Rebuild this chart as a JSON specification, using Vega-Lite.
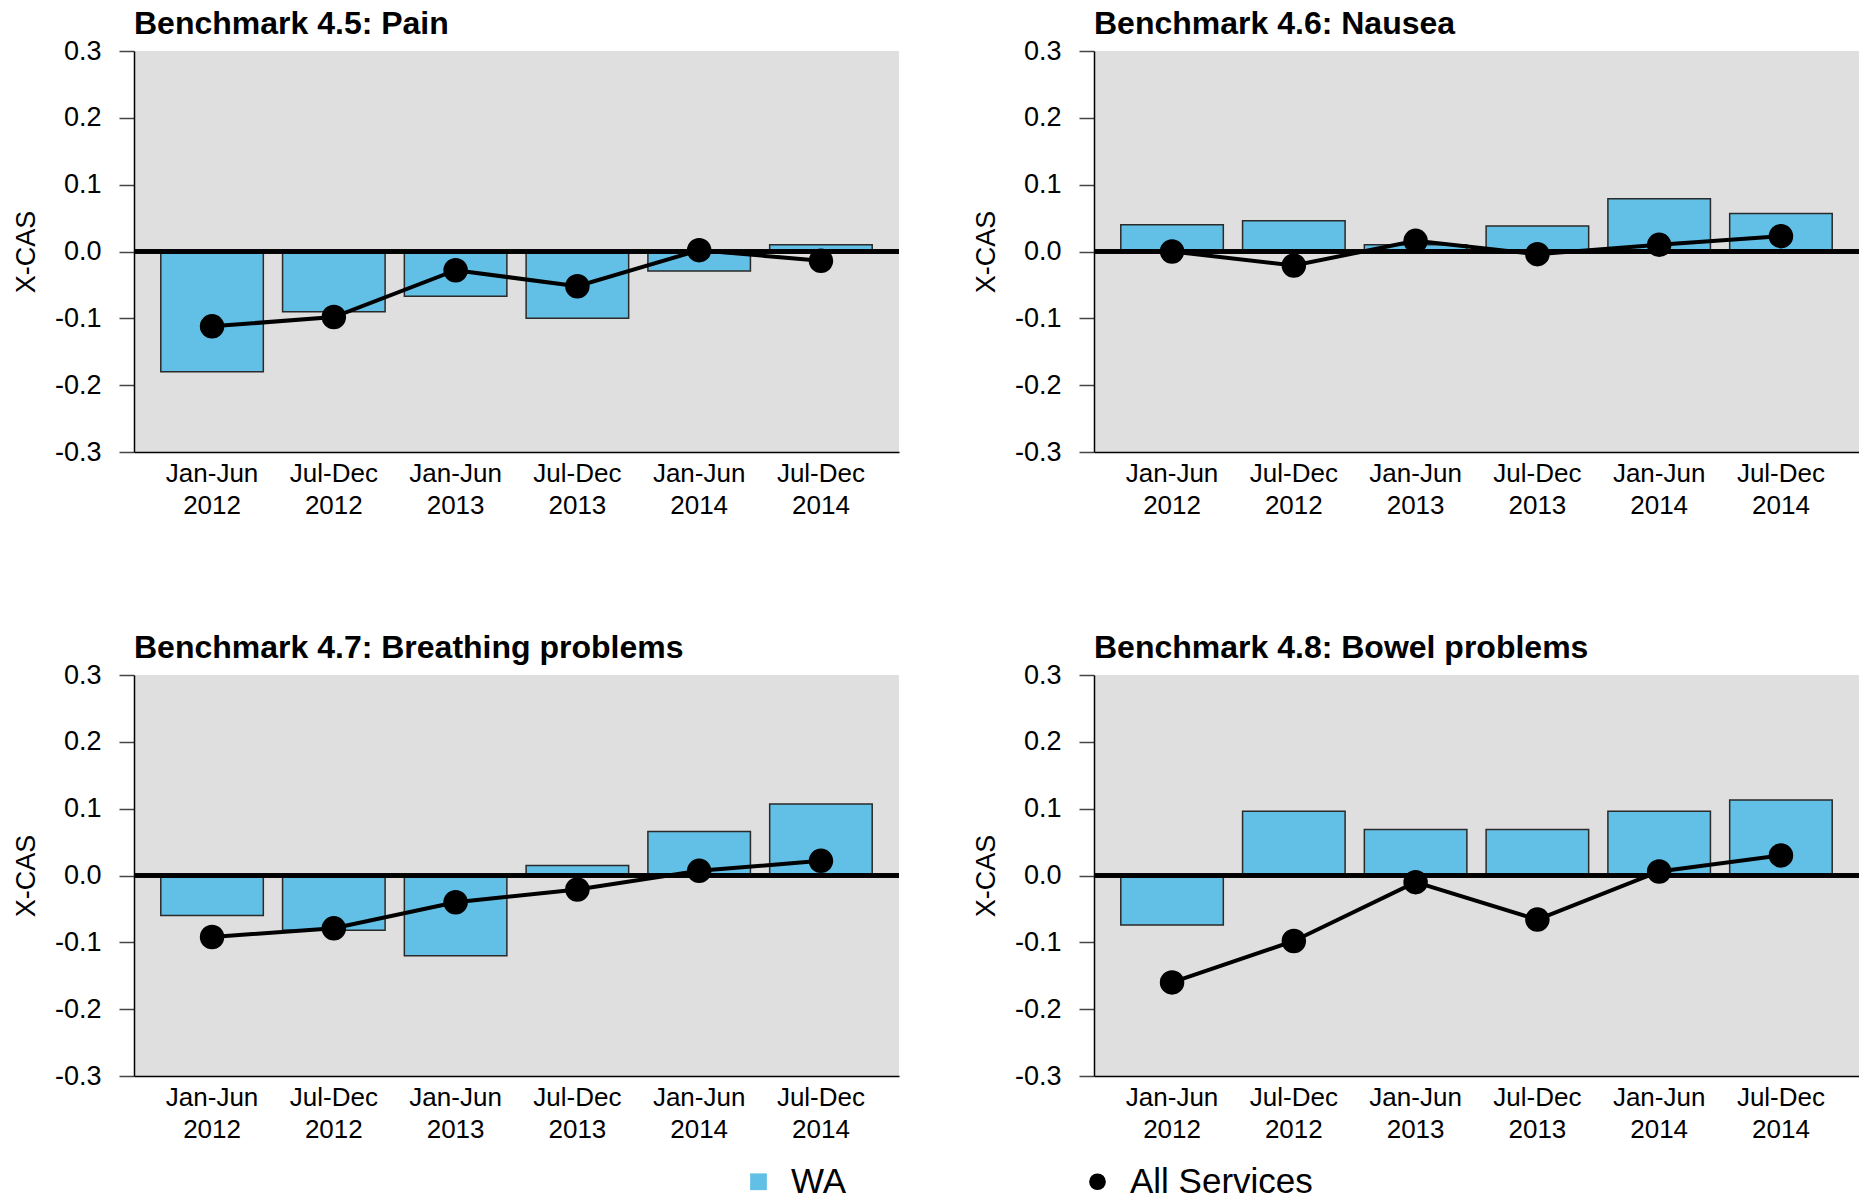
{
  "$schema": "https://vega.github.io/schema/vega-lite/v6.json",
  "padding": {"left": 12, "top": 8, "right": 0, "bottom": 0},
  "background": "white",
  "data": {"values": [
    {"panel": "Pain", "period": "Jan-Jun 2012", "series": "WA", "value": -0.180},
    {"panel": "Pain", "period": "Jul-Dec 2012", "series": "WA", "value": -0.090},
    {"panel": "Pain", "period": "Jan-Jun 2013", "series": "WA", "value": -0.067},
    {"panel": "Pain", "period": "Jul-Dec 2013", "series": "WA", "value": -0.100},
    {"panel": "Pain", "period": "Jan-Jun 2014", "series": "WA", "value": -0.029},
    {"panel": "Pain", "period": "Jul-Dec 2014", "series": "WA", "value": 0.010},
    {"panel": "Pain", "period": "Jan-Jun 2012", "series": "All Services", "value": -0.112},
    {"panel": "Pain", "period": "Jul-Dec 2012", "series": "All Services", "value": -0.098},
    {"panel": "Pain", "period": "Jan-Jun 2013", "series": "All Services", "value": -0.028},
    {"panel": "Pain", "period": "Jul-Dec 2013", "series": "All Services", "value": -0.052},
    {"panel": "Pain", "period": "Jan-Jun 2014", "series": "All Services", "value": 0.002},
    {"panel": "Pain", "period": "Jul-Dec 2014", "series": "All Services", "value": -0.014},
    {"panel": "Nausea", "period": "Jan-Jun 2012", "series": "WA", "value": 0.040},
    {"panel": "Nausea", "period": "Jul-Dec 2012", "series": "WA", "value": 0.046},
    {"panel": "Nausea", "period": "Jan-Jun 2013", "series": "WA", "value": 0.010},
    {"panel": "Nausea", "period": "Jul-Dec 2013", "series": "WA", "value": 0.038},
    {"panel": "Nausea", "period": "Jan-Jun 2014", "series": "WA", "value": 0.079},
    {"panel": "Nausea", "period": "Jul-Dec 2014", "series": "WA", "value": 0.057},
    {"panel": "Nausea", "period": "Jan-Jun 2012", "series": "All Services", "value": 0.000},
    {"panel": "Nausea", "period": "Jul-Dec 2012", "series": "All Services", "value": -0.021},
    {"panel": "Nausea", "period": "Jan-Jun 2013", "series": "All Services", "value": 0.016},
    {"panel": "Nausea", "period": "Jul-Dec 2013", "series": "All Services", "value": -0.004},
    {"panel": "Nausea", "period": "Jan-Jun 2014", "series": "All Services", "value": 0.010},
    {"panel": "Nausea", "period": "Jul-Dec 2014", "series": "All Services", "value": 0.023},
    {"panel": "Breathing", "period": "Jan-Jun 2012", "series": "WA", "value": -0.060},
    {"panel": "Breathing", "period": "Jul-Dec 2012", "series": "WA", "value": -0.082},
    {"panel": "Breathing", "period": "Jan-Jun 2013", "series": "WA", "value": -0.120},
    {"panel": "Breathing", "period": "Jul-Dec 2013", "series": "WA", "value": 0.015},
    {"panel": "Breathing", "period": "Jan-Jun 2014", "series": "WA", "value": 0.066},
    {"panel": "Breathing", "period": "Jul-Dec 2014", "series": "WA", "value": 0.107},
    {"panel": "Breathing", "period": "Jan-Jun 2012", "series": "All Services", "value": -0.092},
    {"panel": "Breathing", "period": "Jul-Dec 2012", "series": "All Services", "value": -0.079},
    {"panel": "Breathing", "period": "Jan-Jun 2013", "series": "All Services", "value": -0.040},
    {"panel": "Breathing", "period": "Jul-Dec 2013", "series": "All Services", "value": -0.021},
    {"panel": "Breathing", "period": "Jan-Jun 2014", "series": "All Services", "value": 0.007},
    {"panel": "Breathing", "period": "Jul-Dec 2014", "series": "All Services", "value": 0.022},
    {"panel": "Bowel", "period": "Jan-Jun 2012", "series": "WA", "value": -0.074},
    {"panel": "Bowel", "period": "Jul-Dec 2012", "series": "WA", "value": 0.096},
    {"panel": "Bowel", "period": "Jan-Jun 2013", "series": "WA", "value": 0.069},
    {"panel": "Bowel", "period": "Jul-Dec 2013", "series": "WA", "value": 0.069},
    {"panel": "Bowel", "period": "Jan-Jun 2014", "series": "WA", "value": 0.096},
    {"panel": "Bowel", "period": "Jul-Dec 2014", "series": "WA", "value": 0.113},
    {"panel": "Bowel", "period": "Jan-Jun 2012", "series": "All Services", "value": -0.160},
    {"panel": "Bowel", "period": "Jul-Dec 2012", "series": "All Services", "value": -0.098},
    {"panel": "Bowel", "period": "Jan-Jun 2013", "series": "All Services", "value": -0.010},
    {"panel": "Bowel", "period": "Jul-Dec 2013", "series": "All Services", "value": -0.066},
    {"panel": "Bowel", "period": "Jan-Jun 2014", "series": "All Services", "value": 0.006},
    {"panel": "Bowel", "period": "Jul-Dec 2014", "series": "All Services", "value": 0.030}
  ]},
  "columns": 2,
  "spacing": {"row": 114, "column": 71},
  "concat": [
    {
      "title": "Benchmark 4.5: Pain",
      "width": 765, "height": 401,
      "transform": [{"filter": "datum.panel === 'Pain'"}],
      "encoding": {
        "y": {"field": "value", "type": "quantitative", "scale": {"domain": [-0.3, 0.3], "nice": false, "zero": false}, "axis": {"title": "X-CAS", "values": [-0.3, -0.2, -0.1, 0, 0.1, 0.2, 0.3], "labelExpr": "(datum.value < 0 ? '-' : '') + format(abs(datum.value), '.1f')"}}
      },
      "layer": [
        {"transform": [{"filter": "datum.series === 'WA'"}], "mark": {"type": "bar", "stroke": "#2a2a2a", "strokeWidth": 1.5},
         "encoding": {"x": {"field": "period", "type": "nominal", "sort": null, "scale": {"paddingInner": 0.158, "paddingOuter": 0.22}, "axis": {"title": null, "labelExpr": "split(datum.label, ' ')"}},
           "color": {"field": "series", "type": "nominal", "scale": {"domain": ["WA", "All Services"], "range": ["#62bfe5", "#000000"]}, "legend": {"title": null, "orient": "none", "legendX": 607, "legendY": 1113, "direction": "horizontal"}}}},
        {"mark": {"type": "rule", "color": "black", "strokeWidth": 3.5}, "encoding": {"y": {"datum": 0, "type": "quantitative"}}},
        {"transform": [{"filter": "datum.series === 'All Services'"}], "mark": {"type": "line", "color": "black", "strokeWidth": 4},
         "encoding": {"x": {"field": "period", "type": "nominal", "sort": null, "axis": {"title": null, "labelExpr": "split(datum.label, ' ')"}}}},
        {"transform": [{"filter": "datum.series === 'All Services'"}], "mark": {"type": "point", "filled": true, "opacity": 1, "size": 600},
         "encoding": {"x": {"field": "period", "type": "nominal", "sort": null, "axis": {"title": null, "labelExpr": "split(datum.label, ' ')"}},
           "color": {"field": "series", "type": "nominal", "scale": {"domain": ["WA", "All Services"], "range": ["#62bfe5", "#000000"]}, "legend": {"title": null, "orient": "none", "legendX": 607, "legendY": 1113, "direction": "horizontal"}},
           "shape": {"field": "series", "type": "nominal", "scale": {"domain": ["WA", "All Services"], "range": ["square", "circle"]}, "legend": {"title": null, "orient": "none", "legendX": 607, "legendY": 1113, "direction": "horizontal"}}}}
      ]
    },
    {
      "title": "Benchmark 4.6: Nausea",
      "width": 765, "height": 401,
      "transform": [{"filter": "datum.panel === 'Nausea'"}],
      "encoding": {
        "y": {"field": "value", "type": "quantitative", "scale": {"domain": [-0.3, 0.3], "nice": false, "zero": false}, "axis": {"title": "X-CAS", "values": [-0.3, -0.2, -0.1, 0, 0.1, 0.2, 0.3], "labelExpr": "(datum.value < 0 ? '-' : '') + format(abs(datum.value), '.1f')"}}
      },
      "layer": [
        {"transform": [{"filter": "datum.series === 'WA'"}], "mark": {"type": "bar", "stroke": "#2a2a2a", "strokeWidth": 1.5},
         "encoding": {"x": {"field": "period", "type": "nominal", "sort": null, "scale": {"paddingInner": 0.158, "paddingOuter": 0.22}, "axis": {"title": null, "labelExpr": "split(datum.label, ' ')"}},
           "color": {"field": "series", "type": "nominal", "scale": {"domain": ["WA", "All Services"], "range": ["#62bfe5", "#000000"]}, "legend": {"title": null, "orient": "none", "legendX": 607, "legendY": 1113, "direction": "horizontal"}}}},
        {"mark": {"type": "rule", "color": "black", "strokeWidth": 3.5}, "encoding": {"y": {"datum": 0, "type": "quantitative"}}},
        {"transform": [{"filter": "datum.series === 'All Services'"}], "mark": {"type": "line", "color": "black", "strokeWidth": 4},
         "encoding": {"x": {"field": "period", "type": "nominal", "sort": null, "axis": {"title": null, "labelExpr": "split(datum.label, ' ')"}}}},
        {"transform": [{"filter": "datum.series === 'All Services'"}], "mark": {"type": "point", "filled": true, "opacity": 1, "size": 600},
         "encoding": {"x": {"field": "period", "type": "nominal", "sort": null, "axis": {"title": null, "labelExpr": "split(datum.label, ' ')"}},
           "color": {"field": "series", "type": "nominal", "scale": {"domain": ["WA", "All Services"], "range": ["#62bfe5", "#000000"]}, "legend": {"title": null, "orient": "none", "legendX": 607, "legendY": 1113, "direction": "horizontal"}},
           "shape": {"field": "series", "type": "nominal", "scale": {"domain": ["WA", "All Services"], "range": ["square", "circle"]}, "legend": {"title": null, "orient": "none", "legendX": 607, "legendY": 1113, "direction": "horizontal"}}}}
      ]
    },
    {
      "title": "Benchmark 4.7: Breathing problems",
      "width": 765, "height": 401,
      "transform": [{"filter": "datum.panel === 'Breathing'"}],
      "encoding": {
        "y": {"field": "value", "type": "quantitative", "scale": {"domain": [-0.3, 0.3], "nice": false, "zero": false}, "axis": {"title": "X-CAS", "values": [-0.3, -0.2, -0.1, 0, 0.1, 0.2, 0.3], "labelExpr": "(datum.value < 0 ? '-' : '') + format(abs(datum.value), '.1f')"}}
      },
      "layer": [
        {"transform": [{"filter": "datum.series === 'WA'"}], "mark": {"type": "bar", "stroke": "#2a2a2a", "strokeWidth": 1.5},
         "encoding": {"x": {"field": "period", "type": "nominal", "sort": null, "scale": {"paddingInner": 0.158, "paddingOuter": 0.22}, "axis": {"title": null, "labelExpr": "split(datum.label, ' ')"}},
           "color": {"field": "series", "type": "nominal", "scale": {"domain": ["WA", "All Services"], "range": ["#62bfe5", "#000000"]}, "legend": {"title": null, "orient": "none", "legendX": 607, "legendY": 1113, "direction": "horizontal"}}}},
        {"mark": {"type": "rule", "color": "black", "strokeWidth": 3.5}, "encoding": {"y": {"datum": 0, "type": "quantitative"}}},
        {"transform": [{"filter": "datum.series === 'All Services'"}], "mark": {"type": "line", "color": "black", "strokeWidth": 4},
         "encoding": {"x": {"field": "period", "type": "nominal", "sort": null, "axis": {"title": null, "labelExpr": "split(datum.label, ' ')"}}}},
        {"transform": [{"filter": "datum.series === 'All Services'"}], "mark": {"type": "point", "filled": true, "opacity": 1, "size": 600},
         "encoding": {"x": {"field": "period", "type": "nominal", "sort": null, "axis": {"title": null, "labelExpr": "split(datum.label, ' ')"}},
           "color": {"field": "series", "type": "nominal", "scale": {"domain": ["WA", "All Services"], "range": ["#62bfe5", "#000000"]}, "legend": {"title": null, "orient": "none", "legendX": 607, "legendY": 1113, "direction": "horizontal"}},
           "shape": {"field": "series", "type": "nominal", "scale": {"domain": ["WA", "All Services"], "range": ["square", "circle"]}, "legend": {"title": null, "orient": "none", "legendX": 607, "legendY": 1113, "direction": "horizontal"}}}}
      ]
    },
    {
      "title": "Benchmark 4.8: Bowel problems",
      "width": 765, "height": 401,
      "transform": [{"filter": "datum.panel === 'Bowel'"}],
      "encoding": {
        "y": {"field": "value", "type": "quantitative", "scale": {"domain": [-0.3, 0.3], "nice": false, "zero": false}, "axis": {"title": "X-CAS", "values": [-0.3, -0.2, -0.1, 0, 0.1, 0.2, 0.3], "labelExpr": "(datum.value < 0 ? '-' : '') + format(abs(datum.value), '.1f')"}}
      },
      "layer": [
        {"transform": [{"filter": "datum.series === 'WA'"}], "mark": {"type": "bar", "stroke": "#2a2a2a", "strokeWidth": 1.5},
         "encoding": {"x": {"field": "period", "type": "nominal", "sort": null, "scale": {"paddingInner": 0.158, "paddingOuter": 0.22}, "axis": {"title": null, "labelExpr": "split(datum.label, ' ')"}},
           "color": {"field": "series", "type": "nominal", "scale": {"domain": ["WA", "All Services"], "range": ["#62bfe5", "#000000"]}, "legend": {"title": null, "orient": "none", "legendX": 607, "legendY": 1113, "direction": "horizontal"}}}},
        {"mark": {"type": "rule", "color": "black", "strokeWidth": 3.5}, "encoding": {"y": {"datum": 0, "type": "quantitative"}}},
        {"transform": [{"filter": "datum.series === 'All Services'"}], "mark": {"type": "line", "color": "black", "strokeWidth": 4},
         "encoding": {"x": {"field": "period", "type": "nominal", "sort": null, "axis": {"title": null, "labelExpr": "split(datum.label, ' ')"}}}},
        {"transform": [{"filter": "datum.series === 'All Services'"}], "mark": {"type": "point", "filled": true, "opacity": 1, "size": 600},
         "encoding": {"x": {"field": "period", "type": "nominal", "sort": null, "axis": {"title": null, "labelExpr": "split(datum.label, ' ')"}},
           "color": {"field": "series", "type": "nominal", "scale": {"domain": ["WA", "All Services"], "range": ["#62bfe5", "#000000"]}, "legend": {"title": null, "orient": "none", "legendX": 607, "legendY": 1113, "direction": "horizontal"}},
           "shape": {"field": "series", "type": "nominal", "scale": {"domain": ["WA", "All Services"], "range": ["square", "circle"]}, "legend": {"title": null, "orient": "none", "legendX": 607, "legendY": 1113, "direction": "horizontal"}}}}
      ]
    }
  ],
  "config": {
    "font": "Liberation Sans",
    "view": {"fill": "#e0dfe0", "stroke": null},
    "title": {"anchor": "start", "frame": "group", "fontSize": 32, "fontWeight": "bold", "color": "black", "baseline": "alphabetic", "offset": -4},
    "axis": {"grid": false, "labelColor": "black", "titleColor": "black", "domainColor": "black", "domainWidth": 1.5, "labelFontSize": 26, "titleFontSize": 27, "titleFontWeight": "normal", "labelOverlap": false, "labelFlush": false},
    "axisY": {"tickSize": 15, "tickWidth": 1.5, "tickColor": "#444444", "labelPadding": 18, "titlePadding": 14, "labelFontSize": 27},
    "axisX": {"ticks": false, "labelPadding": 8, "labelAngle": 0, "labelLineHeight": 32, "labelBaseline": "top"},
    "legend": {"labelFontSize": 35, "labelColor": "black", "labelLimit": 400, "symbolSize": 280, "symbolStrokeWidth": 0, "labelOffset": 15, "columnPadding": 233, "padding": 0, "symbolOpacity": 1}
  }
}
